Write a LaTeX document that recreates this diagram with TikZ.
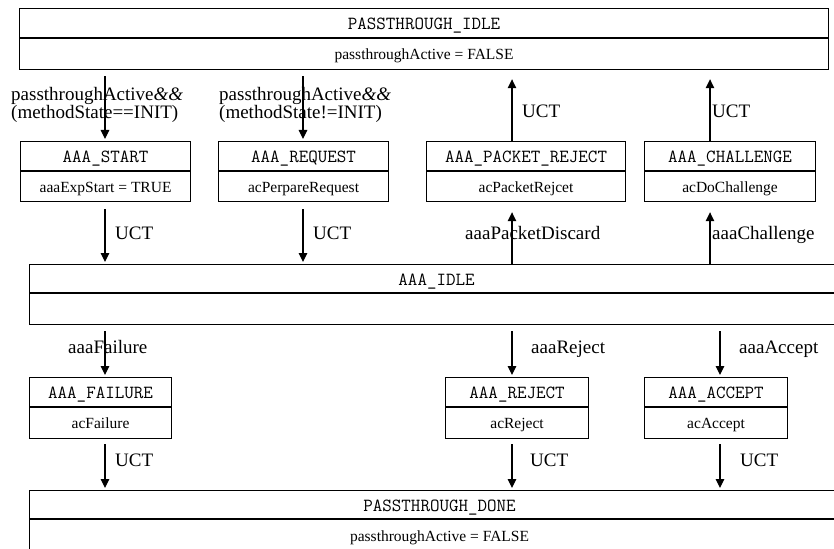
\documentclass[tikz,border=0pt]{standalone}
\usepackage{fontspec}
\setmainfont{Liberation Serif}
\usetikzlibrary{arrows.meta}
\begin{document}
\begin{tikzpicture}[x=1pt,y=-1pt,
  box/.style={draw, line width=1.1pt, inner sep=0pt, anchor=north west},
  ttl/.style={box, font=\ttfamily\fontsize{18.5}{20}\selectfont, text height=13pt, text depth=0pt},
  act/.style={box, anchor=north, font=\fontsize{15.5}{17}\selectfont, text height=11pt, text depth=0pt},
  lbl/.style={inner sep=0pt, anchor=base west, font=\fontsize{19}{21}\selectfont},
  arr/.style={line width=1.1pt, -{Triangle[length=9pt,width=8.5pt]}},
]
\useasboundingbox (0,0) rectangle (834,548);
\clip (0,0) rectangle (834,548);
\fill[white] (0,0) rectangle (834,548);

% vertical lanes of the transitions
\coordinate (xa) at (105,0);
\coordinate (xb) at (303,0);
\coordinate (xc) at (512,0);
\coordinate (xd) at (710,0);
\coordinate (xe) at (720,0);

% states: name compartment on top, action compartment below
\node[ttl, minimum width=809, minimum height=29] (pidle) at (19,8) {PASSTHROUGH\_IDLE};
\node[act, minimum width=809, minimum height=31] (pidleA) at (pidle.south) {passthroughActive = FALSE};

\node[ttl, minimum width=170, minimum height=29] (start) at (20,141) {AAA\_START};
\node[act, minimum width=170, minimum height=30] (startA) at (start.south) {aaaExpStart = TRUE};

\node[ttl, minimum width=170, minimum height=29] (request) at (218,141) {AAA\_REQUEST};
\node[act, minimum width=170, minimum height=30] (requestA) at (request.south) {acPerpareRequest};

\node[ttl, minimum width=199, minimum height=29] (preject) at (426,141) {AAA\_PACKET\_REJECT};
\node[act, minimum width=199, minimum height=30] (prejectA) at (preject.south) {acPacketRejcet};

\node[ttl, minimum width=171, minimum height=29] (challenge) at (644,141) {AAA\_CHALLENGE};
\node[act, minimum width=171, minimum height=30] (challengeA) at (challenge.south) {acDoChallenge};

\node[ttl, minimum width=814, minimum height=28] (idle) at (29,264) {AAA\_IDLE};
\node[act, minimum width=814, minimum height=31] (idleA) at (idle.south) {};

\node[ttl, minimum width=142, minimum height=29] (failure) at (29,377) {AAA\_FAILURE};
\node[act, minimum width=142, minimum height=31] (failureA) at (failure.south) {acFailure};

\node[ttl, minimum width=143, minimum height=29] (reject) at (445,377) {AAA\_REJECT};
\node[act, minimum width=143, minimum height=31] (rejectA) at (reject.south) {acReject};

\node[ttl, minimum width=143, minimum height=29] (accept) at (644,377) {AAA\_ACCEPT};
\node[act, minimum width=143, minimum height=31] (acceptA) at (accept.south) {acAccept};

\node[ttl, minimum width=820, minimum height=28] (done) at (29,490) {PASSTHROUGH\_DONE};
\node[act, minimum width=820, minimum height=32] (doneA) at (done.south) {passthroughActive = FALSE};

% transitions
\draw[arr, shorten <=6pt, shorten >=2pt] (pidleA.south -| xa) -- (start.north -| xa);
\draw[arr, shorten <=6pt, shorten >=2pt] (pidleA.south -| xb) -- (request.north -| xb);
\draw[arr, shorten >=9pt] (preject.north -| xc) -- (pidleA.south -| xc);
\draw[arr, shorten >=9pt] (challenge.north -| xd) -- (pidleA.south -| xd);

\draw[arr, shorten <=7pt, shorten >=2pt] (startA.south -| xa) -- (idle.north -| xa);
\draw[arr, shorten <=7pt, shorten >=2pt] (requestA.south -| xb) -- (idle.north -| xb);
\draw[arr, shorten >=10pt] (idle.north -| xc) -- (prejectA.south -| xc);
\draw[arr, shorten >=10pt] (idle.north -| xd) -- (challengeA.south -| xd);

\draw[arr, shorten <=6pt, shorten >=2pt] (idleA.south -| xa) -- (failure.north -| xa);
\draw[arr, shorten <=6pt, shorten >=2pt] (idleA.south -| xc) -- (reject.north -| xc);
\draw[arr, shorten <=6pt, shorten >=2pt] (idleA.south -| xe) -- (accept.north -| xe);

\draw[arr, shorten <=5pt, shorten >=2pt] (failureA.south -| xa) -- (done.north -| xa);
\draw[arr, shorten <=5pt, shorten >=2pt] (rejectA.south -| xc) -- (done.north -| xc);
\draw[arr, shorten <=5pt, shorten >=2pt] (acceptA.south -| xe) -- (done.north -| xe);

% transition labels
\node[lbl] (g1) at (11,101) {passthroughActive\textit{\&\&}};
\node[lbl] (g1b) at (11,119) {(methodState==INIT)};
\node[lbl] (g2) at (219,101) {passthroughActive\textit{\&\&}};
\node[lbl] (g2b) at (219,119) {(methodState!=INIT)};
\node[lbl] (u1) at (522,118) {UCT};
\node[lbl] (u2) at (712,118) {UCT};
\node[lbl] (u3) at (115,239) {UCT};
\node[lbl] (u4) at (313,239) {UCT};
\node[lbl] (e1) at (465,239) {aaaPacketDiscard};
\node[lbl] (e2) at (712,239) {aaaChallenge};
\node[lbl] (e3) at (68,353) {aaaFailure};
\node[lbl] (e4) at (531,353) {aaaReject};
\node[lbl] (e5) at (739,353) {aaaAccept};
\node[lbl] (u5) at (115,466) {UCT};
\node[lbl] (u6) at (530,466) {UCT};
\node[lbl] (u7) at (740,466) {UCT};
\end{tikzpicture}
\end{document}
